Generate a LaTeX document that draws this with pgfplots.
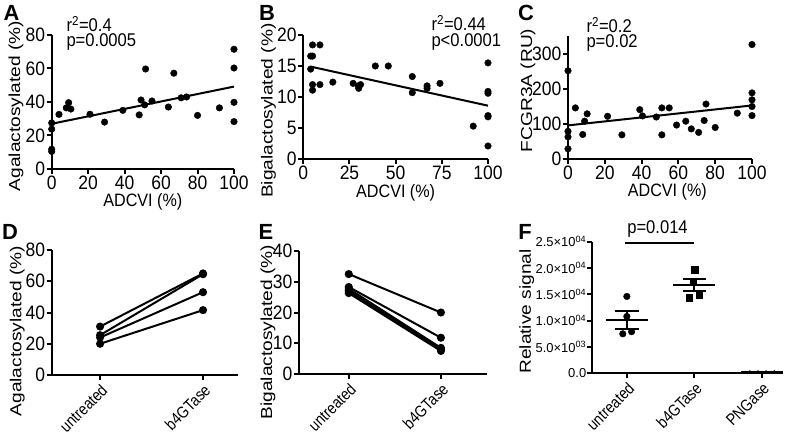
\documentclass[border=0pt]{standalone}
\usepackage{fontspec}
\setmainfont{Liberation Sans}
\newfontfamily\hfont[FakeStretch=0.9]{Liberation Sans}
\newfontfamily\rfont[FakeStretch=0.85]{Liberation Sans}
\newfontfamily\vfont[FakeStretch=1.2]{Liberation Sans}
\usepackage{pgfplots}
\pgfplotsset{compat=1.18}
\newcommand\tickf{\hfont\fontsize{19.5}{21}\selectfont}
\newcommand\rotf{\rfont\fontsize{16.5}{18}\selectfont}
\newcommand\labf{\hfont\fontsize{18}{20}\selectfont}
\newcommand\ylabf{\vfont\fontsize{16}{18}\selectfont}
\newcommand\annf{\hfont\fontsize{18.5}{20}\selectfont}
\newcommand\letf{\fontsize{22}{24}\selectfont\bfseries}
\pgfplotsset{
  gp/.style={
    scale only axis, clip=false,
    axis x line*=bottom, axis y line*=left,
    axis line style={line width=2.2bp, black},
    tick align=outside, major tick length=5bp,
    every tick/.append style={line width=2bp, black},
    tick label style={font=\tickf, inner sep=1.5bp},
    /pgf/number format/assume math mode=true,
    scaled ticks=false,
    xlabel style={font=\labf},
    ylabel style={font=\ylabf},
    enlargelimits=false,
    anchor=south west,
  },
  dot/.style={only marks, mark=*, mark size=3.3bp, black, mark options={fill=black}},
  fit/.style={no marks, black, line width=2bp},
  pair/.style={black, line width=2bp, mark=*, mark size=3bp, mark options={fill=black}},
  rotx/.style={xticklabel style={rotate=45, anchor=north east, font=\rotf, inner sep=2bp}},
}
\begin{document}
\begin{tikzpicture}
\useasboundingbox (0,0) rectangle (798bp,440bp);
% ---------- A
\begin{axis}[gp, at={(51.7bp,271bp)}, width=182.3bp, height=134bp,
  xmin=0, xmax=100, ymin=0, ymax=80, xtick={0,20,...,100}, ytick={0,20,...,80},
  xlabel={ADCVI (\%)}, ylabel={Agalactosylated (\%)},
  xlabel style={at={(axis description cs:0.5,-0.244)}, anchor=center},
  ylabel style={at={(axis description cs:-0.196,0.47)}, anchor=center}]
\addplot[dot] coordinates {(0,10.5)(0,11.8)(0,23.8)(0,27.5)(4,32.6)(8,36.5)(9.3,39.6)(10.5,35.8)(21,32.7)(29,28)(39,35)(48,32.3)(49,41.2)(51,38.3)(51.5,59.7)(55,40.6)(64,37)(67,57.2)(71,42.5)(74,43)(80,32)(92,36.5)(100,71.5)(100,60.3)(100,39.8)(100,28.3)};
\addplot[fit] coordinates {(0,27)(100,49.2)};
\end{axis}
% ---------- B
\begin{axis}[gp, at={(303.3bp,281bp)}, width=184.7bp, height=124bp,
  xmin=0, xmax=100, ymin=0, ymax=20, xtick={0,25,...,100}, ytick={0,5,...,20},
  xlabel={ADCVI (\%)}, ylabel={Bigalactosylated (\%)},
  xlabel style={at={(axis description cs:0.5,-0.277)}, anchor=center},
  ylabel style={at={(axis description cs:-0.188,0.39)}, anchor=center}]
\addplot[dot] coordinates {(5,18.4)(9,18.4)(4,16.6)(5,16.6)(4,14.5)(5,12)(9,12)(5,11.1)(16,12.4)(27,12.2)(29.8,11.8)(30,11.4)(31,12)(39,15)(46,15)(59,13.3)(59,10.7)(67,11.8)(67,11.4)(74,12.2)(92,5.3)(100,15.5)(100,10.9)(100,10.6)(100,7)(100,6.8)(100,2.1)};
\addplot[fit] coordinates {(4,14.9)(100,8.6)};
\end{axis}
% ---------- C
\begin{axis}[gp, at={(568bp,281bp)}, width=184bp, height=122.5bp,
  xmin=0, xmax=100, ymin=0, ymax=350, xtick={0,20,...,100}, ytick={0,100,200,300},
  xlabel={ADCVI (\%)}, ylabel={FCGR3A (RU)},
  xlabel style={at={(axis description cs:0.54,-0.267)}, anchor=center},
  ylabel style={at={(axis description cs:-0.217,0.56)}, anchor=center}]
\addplot[dot] coordinates {(0,252)(0,79)(0,63)(0,29)(4,146)(8,70)(9,108)(10.4,129)(21.5,122)(29.3,69)(39,141)(40.5,123)(48,120)(51,146)(55,146)(51,69)(59,97)(64,108)(67,86)(71,76)(74,110)(75,157)(80,90)(92,131)(100,327)(100,189)(100,169)(100,150)(100,124)};
\addplot[fit] coordinates {(0,96)(100,153)};
\end{axis}
% ---------- D
\begin{axis}[gp, rotx, at={(51.7bp,65bp)}, width=186.3bp, height=125bp,
  xmin=-0.47, xmax=1.34, ymin=0, ymax=80, xtick={0,1}, xticklabels={untreated,b4GTase},
  ytick={0,20,...,80}, ylabel={Agalactosylated (\%)},
  ylabel style={at={(axis description cs:-0.185,0.35)}, anchor=center}]
\addplot[pair] coordinates {(0,31)(1,65)};
\addplot[pair] coordinates {(0,25.5)(1,64.5)};
\addplot[pair] coordinates {(0,24)(1,53)};
\addplot[pair] coordinates {(0,20)(1,41.5)};
\end{axis}
% ---------- E
\begin{axis}[gp, rotx, at={(299bp,66bp)}, width=188bp, height=123bp,
  xmin=-0.54, xmax=1.5, ymin=0, ymax=40, xtick={0,1}, xticklabels={untreated,b4GTase},
  ytick={0,10,...,40}, ylabel={Bigalactosylated (\%)},
  ylabel style={at={(axis description cs:-0.165,0.34)}, anchor=center}]
\addplot[pair] coordinates {(0,32.5)(1,20)};
\addplot[pair] coordinates {(0,28.3)(1,11.8)};
\addplot[pair] coordinates {(0,27.7)(1,8.5)};
\addplot[pair] coordinates {(0,27)(1,8)};
\addplot[pair] coordinates {(0,26.3)(1,7.5)};
\end{axis}
% ---------- F
\begin{axis}[gp, rotx, at={(591.7bp,66.7bp)}, width=191.3bp, height=131.6bp,
  xmin=-0.52, xmax=2.31, ymin=0, ymax=25000, xtick={0,1,2}, xticklabels={untreated,b4GTase,PNGase},
  ytick={0,5000,10000,15000,20000,25000},
  yticklabels={0.0,5.0×10\textsuperscript{03},1.0×10\textsuperscript{04},1.5×10\textsuperscript{04},2.0×10\textsuperscript{04},2.5×10\textsuperscript{04}},
  yticklabel style={font=\fontsize{13}{15}\selectfont, inner sep=0.3bp},
  ylabel={Relative signal},
  ylabel style={at={(axis description cs:-0.34,0.47)}, anchor=center}]
\addplot[only marks, mark=*, mark size=3.3bp, black] coordinates {(0,14600)(0,10800)(-0.06,7500)(0.07,7900)};
\addplot[only marks, mark=square*, mark size=3.3bp, black] coordinates {(1,19700)(0.98,17500)(0.92,14400)(1.07,14800)};
\addplot[only marks, mark=triangle*, mark size=2.2bp, black] coordinates {(1.82,150)(1.94,150)(2.06,150)(2.18,150)};
% means and SEM
\addplot[fit] coordinates {(-0.31,10200)(0.31,10200)};
\addplot[fit] coordinates {(0,8500)(0,11850)};
\addplot[fit] coordinates {(-0.18,11850)(0.18,11850)};
\addplot[fit] coordinates {(-0.18,8500)(0.18,8500)};
\addplot[fit] coordinates {(0.69,16700)(1.31,16700)};
\addplot[fit] coordinates {(1,15630)(1,17950)};
\addplot[fit] coordinates {(0.83,17950)(1.17,17950)};
\addplot[fit] coordinates {(0.83,15630)(1.17,15630)};
\addplot[fit] coordinates {(1.69,200)(2.31,200)};
% significance bar
\addplot[fit] coordinates {(-0.03,24800)(1,24800)};
\end{axis}
% annotations
\node[anchor=west, font=\annf] at (63bp,416bp) {r\textsuperscript{2}=0.4};
\node[anchor=west, font=\annf] at (63bp,398bp) {p=0.0005};
\node[anchor=west, font=\annf] at (428bp,417bp) {r\textsuperscript{2}=0.44};
\node[anchor=west, font=\annf] at (428bp,398bp) {p<0.0001};
\node[anchor=west, font=\annf] at (583bp,415bp) {r\textsuperscript{2}=0.2};
\node[anchor=west, font=\annf] at (583bp,397bp) {p=0.02};
\node[font=\annf] at (657.5bp,211bp) {p=0.014};
\node[font=\letf] at (11.5bp,427.5bp) {A};
\node[font=\letf] at (267bp,427.5bp) {B};
\node[font=\letf] at (526bp,427.5bp) {C};
\node[font=\letf] at (10bp,208.5bp) {D};
\node[font=\letf] at (266bp,208.5bp) {E};
\node[font=\letf] at (525bp,208.5bp) {F};
\end{tikzpicture}
\end{document}
